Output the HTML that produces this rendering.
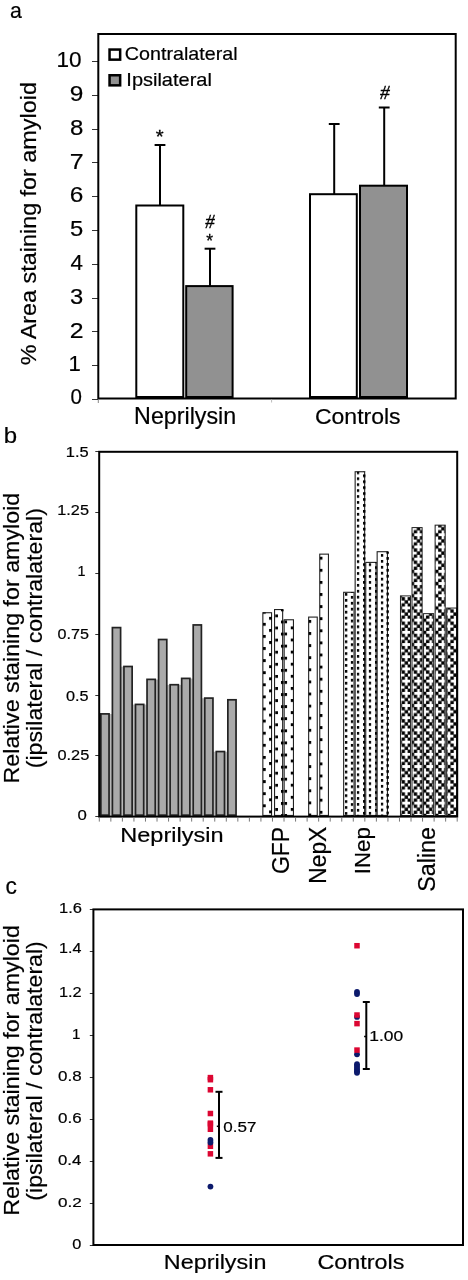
<!DOCTYPE html>
<html><head><meta charset="utf-8"><title>Figure</title>
<style>html,body{margin:0;padding:0;background:#fff;}svg{display:block;filter:blur(0.4px);}text{fill:#000;}</style>
</head><body>
<svg width="468" height="1280" viewBox="0 0 468 1280">
<defs><pattern id="d1" patternUnits="userSpaceOnUse" x="262.95" y="622.85" width="3.90" height="12.100"><rect x="0" y="0" width="2.90" height="2.90" fill="#000"/></pattern><pattern id="d2" patternUnits="userSpaceOnUse" x="269.05" y="628.95" width="3.90" height="12.100"><rect x="0" y="0" width="2.90" height="2.90" fill="#000"/></pattern><pattern id="d3" patternUnits="userSpaceOnUse" x="275.15" y="614.45" width="3.90" height="12.100"><rect x="0" y="0" width="2.90" height="2.90" fill="#000"/></pattern><pattern id="d4" patternUnits="userSpaceOnUse" x="280.85" y="608.45" width="3.90" height="12.100"><rect x="0" y="0" width="2.90" height="2.90" fill="#000"/></pattern><pattern id="d5" patternUnits="userSpaceOnUse" x="284.35" y="620.45" width="3.90" height="12.100"><rect x="0" y="0" width="2.90" height="2.90" fill="#000"/></pattern><pattern id="d6" patternUnits="userSpaceOnUse" x="290.55" y="626.45" width="3.90" height="12.100"><rect x="0" y="0" width="2.90" height="2.90" fill="#000"/></pattern><pattern id="d7" patternUnits="userSpaceOnUse" x="308.55" y="619.95" width="3.90" height="12.100"><rect x="0" y="0" width="2.90" height="2.90" fill="#000"/></pattern><pattern id="d8" patternUnits="userSpaceOnUse" x="319.75" y="556.75" width="3.90" height="12.100"><rect x="0" y="0" width="2.90" height="2.90" fill="#000"/></pattern><pattern id="d9" patternUnits="userSpaceOnUse" x="344.85" y="598.95" width="3.70" height="5.920"><rect x="0" y="0" width="2.70" height="2.70" fill="#000"/></pattern><pattern id="d10" patternUnits="userSpaceOnUse" x="350.65" y="595.95" width="3.70" height="5.920"><rect x="0" y="0" width="2.70" height="2.70" fill="#000"/></pattern><pattern id="d11" patternUnits="userSpaceOnUse" x="356.75" y="583.95" width="3.70" height="5.920"><rect x="0" y="0" width="2.70" height="2.70" fill="#000"/></pattern><pattern id="d12" patternUnits="userSpaceOnUse" x="362.95" y="586.95" width="3.70" height="5.920"><rect x="0" y="0" width="2.70" height="2.70" fill="#000"/></pattern><pattern id="d13" patternUnits="userSpaceOnUse" x="368.65" y="581.05" width="3.70" height="5.920"><rect x="0" y="0" width="2.70" height="2.70" fill="#000"/></pattern><pattern id="d14" patternUnits="userSpaceOnUse" x="374.95" y="584.05" width="3.70" height="5.920"><rect x="0" y="0" width="2.70" height="2.70" fill="#000"/></pattern><pattern id="d15" patternUnits="userSpaceOnUse" x="380.75" y="583.65" width="3.70" height="5.920"><rect x="0" y="0" width="2.70" height="2.70" fill="#000"/></pattern><pattern id="d16" patternUnits="userSpaceOnUse" x="386.25" y="586.65" width="3.70" height="5.920"><rect x="0" y="0" width="2.70" height="2.70" fill="#000"/></pattern><pattern id="sal" patternUnits="userSpaceOnUse" x="398.7" y="8.70" width="12.20" height="12.20"><rect x="-0.18" y="-0.18" width="3.40" height="3.40" fill="#000"/><rect x="2.88" y="2.88" width="3.40" height="3.40" fill="#000"/><rect x="8.97" y="2.88" width="3.40" height="3.40" fill="#000"/><rect x="5.92" y="5.92" width="3.40" height="3.40" fill="#000"/><rect x="2.88" y="8.97" width="3.40" height="3.40" fill="#000"/><rect x="8.97" y="8.97" width="3.40" height="3.40" fill="#000"/><rect x="12.02" y="-0.18" width="3.40" height="3.40" fill="#000"/><rect x="-0.18" y="12.02" width="3.40" height="3.40" fill="#000"/><rect x="12.02" y="12.02" width="3.40" height="3.40" fill="#000"/></pattern></defs>
<rect x="0" y="0" width="468" height="1280" fill="#fff"/>
<text transform="translate(10.00,17.97) scale(0.9391,1)" font-size="22.65" font-family='"Liberation Sans", sans-serif' stroke="#000" stroke-width="0.2">a</text>
<line x1="92.00" y1="399.50" x2="98.30" y2="399.50" stroke="#333" stroke-width="1" />
<text transform="translate(70.58,404.09) scale(0.9616,1)" font-size="21.34" font-family='"Liberation Sans", sans-serif' stroke="#000" stroke-width="0.2">0</text>
<line x1="92.00" y1="365.50" x2="98.30" y2="365.50" stroke="#333" stroke-width="1" />
<text transform="translate(68.51,371.20) scale(1.0000,1)" font-size="22.11" font-family='"Liberation Sans", sans-serif' stroke="#000" stroke-width="0.2">1</text>
<line x1="92.00" y1="331.50" x2="98.30" y2="331.50" stroke="#333" stroke-width="1" />
<text transform="translate(69.76,337.58) scale(1.1104,1)" font-size="22.37" font-family='"Liberation Sans", sans-serif' stroke="#000" stroke-width="0.2">2</text>
<line x1="92.00" y1="298.50" x2="98.30" y2="298.50" stroke="#333" stroke-width="1" />
<text transform="translate(70.11,303.58) scale(1.0789,1)" font-size="22.05" font-family='"Liberation Sans", sans-serif' stroke="#000" stroke-width="0.2">3</text>
<line x1="92.00" y1="264.50" x2="98.30" y2="264.50" stroke="#333" stroke-width="1" />
<text transform="translate(70.50,270.03) scale(0.9861,1)" font-size="22.69" font-family='"Liberation Sans", sans-serif' stroke="#000" stroke-width="0.2">4</text>
<line x1="92.00" y1="230.50" x2="98.30" y2="230.50" stroke="#333" stroke-width="1" />
<text transform="translate(70.05,236.03) scale(1.0637,1)" font-size="22.37" font-family='"Liberation Sans", sans-serif' stroke="#000" stroke-width="0.2">5</text>
<line x1="92.00" y1="196.50" x2="98.30" y2="196.50" stroke="#333" stroke-width="1" />
<text transform="translate(69.78,202.18) scale(1.0872,1)" font-size="22.47" font-family='"Liberation Sans", sans-serif' stroke="#000" stroke-width="0.2">6</text>
<line x1="92.00" y1="162.50" x2="98.30" y2="162.50" stroke="#333" stroke-width="1" />
<text transform="translate(69.69,169.00) scale(1.1148,1)" font-size="22.40" font-family='"Liberation Sans", sans-serif' stroke="#000" stroke-width="0.2">7</text>
<line x1="92.00" y1="129.50" x2="98.30" y2="129.50" stroke="#333" stroke-width="1" />
<text transform="translate(69.98,134.70) scale(1.0904,1)" font-size="22.05" font-family='"Liberation Sans", sans-serif' stroke="#000" stroke-width="0.2">8</text>
<line x1="92.00" y1="95.50" x2="98.30" y2="95.50" stroke="#333" stroke-width="1" />
<text transform="translate(69.84,100.93) scale(1.1081,1)" font-size="22.05" font-family='"Liberation Sans", sans-serif' stroke="#000" stroke-width="0.2">9</text>
<line x1="92.00" y1="61.50" x2="98.30" y2="61.50" stroke="#333" stroke-width="1" />
<text transform="translate(56.41,66.78) scale(1.0296,1)" font-size="21.91" font-family='"Liberation Sans", sans-serif' stroke="#000" stroke-width="0.2">10</text>
<text transform="translate(36.39,365.22) rotate(-90) scale(1.0531,1)" font-size="22.20" font-family='"Liberation Sans", sans-serif' stroke="#000" stroke-width="0.2">% Area staining for amyloid</text>
<rect x="109.55" y="49.55" width="10.60" height="10.10" fill="#fff" stroke="#000" stroke-width="2.5" />
<rect x="109.55" y="75.25" width="10.60" height="10.10" fill="#919191" stroke="#000" stroke-width="2.5" />
<text transform="translate(124.82,60.21) scale(1.0486,1)" font-size="18.78" font-family='"Liberation Sans", sans-serif' stroke="#000" stroke-width="0.2">Contralateral</text>
<text transform="translate(126.35,85.65) scale(1.0780,1)" font-size="18.55" font-family='"Liberation Sans", sans-serif' stroke="#000" stroke-width="0.2">Ipsilateral</text>
<rect x="136.30" y="205.50" width="47.00" height="191.50" fill="#fff" stroke="#000" stroke-width="2" />
<rect x="186.20" y="286.10" width="46.40" height="110.90" fill="#919191" stroke="#000" stroke-width="2" />
<rect x="310.00" y="194.20" width="46.80" height="202.80" fill="#fff" stroke="#000" stroke-width="2" />
<rect x="360.00" y="185.70" width="47.00" height="211.30" fill="#919191" stroke="#000" stroke-width="2" />
<line x1="160.00" y1="145.00" x2="160.00" y2="205.50" stroke="#000" stroke-width="2" />
<line x1="154.60" y1="145.00" x2="165.40" y2="145.00" stroke="#000" stroke-width="2" />
<line x1="210.00" y1="248.70" x2="210.00" y2="286.10" stroke="#000" stroke-width="2" />
<line x1="204.60" y1="248.70" x2="215.40" y2="248.70" stroke="#000" stroke-width="2" />
<line x1="334.20" y1="124.00" x2="334.20" y2="194.20" stroke="#000" stroke-width="2" />
<line x1="328.80" y1="124.00" x2="339.60" y2="124.00" stroke="#000" stroke-width="2" />
<line x1="384.20" y1="107.50" x2="384.20" y2="185.70" stroke="#000" stroke-width="2" />
<line x1="378.80" y1="107.50" x2="389.60" y2="107.50" stroke="#000" stroke-width="2" />
<text transform="translate(155.75,143.18) scale(1.1268,1)" font-size="18.00" font-family='"Liberation Sans", sans-serif' stroke="#000" stroke-width="0.3">*</text>
<text transform="translate(205.16,227.70) scale(0.9888,1)" font-size="18.93" font-family='"Liberation Serif", serif' font-style="italic" stroke="#000" stroke-width="0.35">#</text>
<text transform="translate(206.29,246.68) scale(0.9703,1)" font-size="18.00" font-family='"Liberation Sans", sans-serif' stroke="#000" stroke-width="0.3">*</text>
<text transform="translate(379.96,98.80) scale(1.0200,1)" font-size="18.93" font-family='"Liberation Serif", serif' font-style="italic" stroke="#000" stroke-width="0.35">#</text>
<rect x="98.30" y="34.00" width="357.40" height="364.50" fill="none" stroke="#000" stroke-width="2" />
<line x1="98.30" y1="399.50" x2="98.30" y2="403.00" stroke="#888" stroke-width="1" />
<line x1="271.60" y1="399.50" x2="271.60" y2="402.50" stroke="#bbb" stroke-width="1" />
<text transform="translate(134.08,424.12) scale(1.0090,1)" font-size="23.06" font-family='"Liberation Sans", sans-serif' stroke="#000" stroke-width="0.2">Neprilysin</text>
<text transform="translate(314.95,423.58) scale(1.0510,1)" font-size="21.90" font-family='"Liberation Sans", sans-serif' stroke="#000" stroke-width="0.2">Controls</text>
<text transform="translate(3.64,443.48) scale(1.0889,1)" font-size="22.04" font-family='"Liberation Sans", sans-serif' stroke="#000" stroke-width="0.2">b</text>
<line x1="95.30" y1="816.50" x2="99.20" y2="816.50" stroke="#333" stroke-width="1" />
<text transform="translate(77.43,819.65) scale(1.1078,1)" font-size="15.12" font-family='"Liberation Sans", sans-serif' stroke="#000" stroke-width="0.2">0</text>
<line x1="95.30" y1="755.50" x2="99.20" y2="755.50" stroke="#333" stroke-width="1" />
<text transform="translate(57.45,760.45) scale(1.0915,1)" font-size="14.98" font-family='"Liberation Sans", sans-serif' stroke="#000" stroke-width="0.2">0.25</text>
<line x1="95.30" y1="695.50" x2="99.20" y2="695.50" stroke="#333" stroke-width="1" />
<text transform="translate(65.95,700.55) scale(1.0956,1)" font-size="14.84" font-family='"Liberation Sans", sans-serif' stroke="#000" stroke-width="0.2">0.5</text>
<line x1="95.30" y1="634.50" x2="99.20" y2="634.50" stroke="#333" stroke-width="1" />
<text transform="translate(57.55,639.06) scale(1.1534,1)" font-size="13.99" font-family='"Liberation Sans", sans-serif' stroke="#000" stroke-width="0.2">0.75</text>
<line x1="95.30" y1="573.50" x2="99.20" y2="573.50" stroke="#333" stroke-width="1" />
<text transform="translate(77.41,575.70) scale(1.0000,1)" font-size="14.40" font-family='"Liberation Sans", sans-serif' stroke="#000" stroke-width="0.2">1</text>
<line x1="95.30" y1="512.50" x2="99.20" y2="512.50" stroke="#333" stroke-width="1" />
<text transform="translate(57.28,515.25) scale(1.0972,1)" font-size="14.84" font-family='"Liberation Sans", sans-serif' stroke="#000" stroke-width="0.2">1.25</text>
<line x1="95.30" y1="451.50" x2="99.20" y2="451.50" stroke="#333" stroke-width="1" />
<text transform="translate(65.86,456.55) scale(1.0838,1)" font-size="15.20" font-family='"Liberation Sans", sans-serif' stroke="#000" stroke-width="0.2">1.5</text>
<text transform="translate(18.58,783.42) rotate(-90) scale(1.0231,1)" font-size="22.73" font-family='"Liberation Sans", sans-serif' stroke="#000" stroke-width="0.2">Relative staining for amyloid</text>
<text transform="translate(41.86,768.25) rotate(-90) scale(1.0150,1)" font-size="22.84" font-family='"Liberation Sans", sans-serif' stroke="#000" stroke-width="0.2">(ipsilateral / contralateral)</text>
<rect x="109.40" y="714.04" width="2.65" height="101.96" fill="#b8b8b8"/>
<rect x="120.95" y="666.64" width="2.65" height="149.36" fill="#b8b8b8"/>
<rect x="132.49" y="704.56" width="2.65" height="111.44" fill="#b8b8b8"/>
<rect x="144.04" y="704.56" width="2.65" height="111.44" fill="#b8b8b8"/>
<rect x="155.58" y="679.52" width="2.65" height="136.48" fill="#b8b8b8"/>
<rect x="167.13" y="684.87" width="2.65" height="131.13" fill="#b8b8b8"/>
<rect x="178.67" y="684.87" width="2.65" height="131.13" fill="#b8b8b8"/>
<rect x="190.22" y="678.55" width="2.65" height="137.45" fill="#b8b8b8"/>
<rect x="201.76" y="698.24" width="2.65" height="117.76" fill="#b8b8b8"/>
<rect x="213.31" y="751.71" width="2.65" height="64.29" fill="#b8b8b8"/>
<rect x="224.85" y="751.71" width="2.65" height="64.29" fill="#b8b8b8"/>
<rect x="100.85" y="713.89" width="8.20" height="101.26" fill="#aaaaaa" stroke="#222" stroke-width="1.7" />
<rect x="112.40" y="627.60" width="8.20" height="187.55" fill="#aaaaaa" stroke="#222" stroke-width="1.7" />
<rect x="123.94" y="666.49" width="8.20" height="148.66" fill="#aaaaaa" stroke="#222" stroke-width="1.7" />
<rect x="135.49" y="704.41" width="8.20" height="110.74" fill="#aaaaaa" stroke="#222" stroke-width="1.7" />
<rect x="147.03" y="679.37" width="8.20" height="135.78" fill="#aaaaaa" stroke="#222" stroke-width="1.7" />
<rect x="158.58" y="639.51" width="8.20" height="175.64" fill="#aaaaaa" stroke="#222" stroke-width="1.7" />
<rect x="170.12" y="684.72" width="8.20" height="130.43" fill="#aaaaaa" stroke="#222" stroke-width="1.7" />
<rect x="181.67" y="678.40" width="8.20" height="136.75" fill="#aaaaaa" stroke="#222" stroke-width="1.7" />
<rect x="193.21" y="624.93" width="8.20" height="190.22" fill="#aaaaaa" stroke="#222" stroke-width="1.7" />
<rect x="204.76" y="698.09" width="8.20" height="117.06" fill="#aaaaaa" stroke="#222" stroke-width="1.7" />
<rect x="216.30" y="751.56" width="8.20" height="63.59" fill="#aaaaaa" stroke="#222" stroke-width="1.7" />
<rect x="227.85" y="699.79" width="8.20" height="115.36" fill="#aaaaaa" stroke="#222" stroke-width="1.7" />
<rect x="262.85" y="612.72" width="8.70" height="202.73" fill="#fff" stroke="#222" stroke-width="1.1" />
<rect x="262.95" y="612.47" width="2.90" height="203.53" fill="url(#d1)"/>
<rect x="269.05" y="612.47" width="2.90" height="203.53" fill="url(#d2)"/>
<rect x="274.55" y="609.56" width="8.10" height="205.89" fill="#fff" stroke="#222" stroke-width="1.1" />
<rect x="275.15" y="609.31" width="2.90" height="206.69" fill="url(#d3)"/>
<rect x="280.85" y="609.31" width="2.90" height="206.69" fill="url(#d4)"/>
<rect x="284.15" y="619.77" width="9.30" height="195.68" fill="#fff" stroke="#222" stroke-width="1.1" />
<rect x="284.35" y="619.52" width="2.90" height="196.48" fill="url(#d5)"/>
<rect x="290.55" y="619.52" width="2.90" height="196.48" fill="url(#d6)"/>
<rect x="308.65" y="617.09" width="8.60" height="198.36" fill="#fff" stroke="#222" stroke-width="1.1" />
<rect x="308.55" y="616.84" width="2.90" height="199.16" fill="url(#d7)"/>
<rect x="319.75" y="554.14" width="8.70" height="261.31" fill="#fff" stroke="#222" stroke-width="1.1" />
<rect x="319.75" y="553.89" width="2.90" height="262.11" fill="url(#d8)"/>
<rect x="343.65" y="592.30" width="10.40" height="223.15" fill="#fff" stroke="#222" stroke-width="1.1" />
<rect x="344.85" y="592.05" width="2.70" height="223.95" fill="url(#d9)"/>
<rect x="350.65" y="592.05" width="2.70" height="223.95" fill="url(#d10)"/>
<rect x="355.15" y="471.74" width="9.50" height="343.71" fill="#fff" stroke="#222" stroke-width="1.1" />
<rect x="356.75" y="471.49" width="2.70" height="344.51" fill="url(#d11)"/>
<rect x="362.95" y="471.49" width="2.70" height="344.51" fill="url(#d12)"/>
<rect x="365.75" y="562.40" width="10.30" height="253.05" fill="#fff" stroke="#222" stroke-width="1.1" />
<rect x="368.65" y="562.15" width="2.70" height="253.85" fill="url(#d13)"/>
<rect x="374.95" y="562.15" width="2.70" height="253.85" fill="url(#d14)"/>
<rect x="377.15" y="551.71" width="10.30" height="263.74" fill="#fff" stroke="#222" stroke-width="1.1" />
<rect x="380.75" y="551.46" width="2.70" height="264.54" fill="url(#d15)"/>
<rect x="386.25" y="551.46" width="2.70" height="264.54" fill="url(#d16)"/>
<rect x="400.47" y="595.90" width="10.10" height="219.60" fill="url(#sal)" stroke="#222" stroke-width="1.0" />
<rect x="412.02" y="527.60" width="10.10" height="287.90" fill="url(#sal)" stroke="#222" stroke-width="1.0" />
<rect x="423.56" y="613.64" width="10.10" height="201.86" fill="url(#sal)" stroke="#222" stroke-width="1.0" />
<rect x="435.11" y="525.16" width="10.10" height="290.34" fill="url(#sal)" stroke="#222" stroke-width="1.0" />
<rect x="446.65" y="608.05" width="10.10" height="207.45" fill="url(#sal)" stroke="#222" stroke-width="1.0" />
<rect x="99.20" y="451.80" width="358.00" height="364.80" fill="none" stroke="#000" stroke-width="2" />
<line x1="99.30" y1="817.60" x2="99.30" y2="821.60" stroke="#777" stroke-width="1" />
<line x1="110.85" y1="817.60" x2="110.85" y2="821.60" stroke="#777" stroke-width="1" />
<line x1="122.39" y1="817.60" x2="122.39" y2="821.60" stroke="#777" stroke-width="1" />
<line x1="133.94" y1="817.60" x2="133.94" y2="821.60" stroke="#777" stroke-width="1" />
<line x1="145.48" y1="817.60" x2="145.48" y2="821.60" stroke="#777" stroke-width="1" />
<line x1="157.03" y1="817.60" x2="157.03" y2="821.60" stroke="#777" stroke-width="1" />
<line x1="168.57" y1="817.60" x2="168.57" y2="821.60" stroke="#777" stroke-width="1" />
<line x1="180.12" y1="817.60" x2="180.12" y2="821.60" stroke="#777" stroke-width="1" />
<line x1="191.66" y1="817.60" x2="191.66" y2="821.60" stroke="#777" stroke-width="1" />
<line x1="203.21" y1="817.60" x2="203.21" y2="821.60" stroke="#777" stroke-width="1" />
<line x1="214.75" y1="817.60" x2="214.75" y2="821.60" stroke="#777" stroke-width="1" />
<line x1="226.30" y1="817.60" x2="226.30" y2="821.60" stroke="#777" stroke-width="1" />
<line x1="237.84" y1="817.60" x2="237.84" y2="821.60" stroke="#777" stroke-width="1" />
<line x1="249.39" y1="817.60" x2="249.39" y2="821.60" stroke="#777" stroke-width="1" />
<line x1="260.93" y1="817.60" x2="260.93" y2="821.60" stroke="#777" stroke-width="1" />
<line x1="272.48" y1="817.60" x2="272.48" y2="821.60" stroke="#777" stroke-width="1" />
<line x1="284.02" y1="817.60" x2="284.02" y2="821.60" stroke="#777" stroke-width="1" />
<line x1="295.57" y1="817.60" x2="295.57" y2="821.60" stroke="#777" stroke-width="1" />
<line x1="307.11" y1="817.60" x2="307.11" y2="821.60" stroke="#777" stroke-width="1" />
<line x1="318.66" y1="817.60" x2="318.66" y2="821.60" stroke="#777" stroke-width="1" />
<line x1="330.20" y1="817.60" x2="330.20" y2="821.60" stroke="#777" stroke-width="1" />
<line x1="341.75" y1="817.60" x2="341.75" y2="821.60" stroke="#777" stroke-width="1" />
<line x1="353.29" y1="817.60" x2="353.29" y2="821.60" stroke="#777" stroke-width="1" />
<line x1="364.84" y1="817.60" x2="364.84" y2="821.60" stroke="#777" stroke-width="1" />
<line x1="376.38" y1="817.60" x2="376.38" y2="821.60" stroke="#777" stroke-width="1" />
<line x1="387.93" y1="817.60" x2="387.93" y2="821.60" stroke="#777" stroke-width="1" />
<line x1="399.47" y1="817.60" x2="399.47" y2="821.60" stroke="#777" stroke-width="1" />
<line x1="411.02" y1="817.60" x2="411.02" y2="821.60" stroke="#777" stroke-width="1" />
<line x1="422.56" y1="817.60" x2="422.56" y2="821.60" stroke="#777" stroke-width="1" />
<line x1="434.11" y1="817.60" x2="434.11" y2="821.60" stroke="#777" stroke-width="1" />
<line x1="445.65" y1="817.60" x2="445.65" y2="821.60" stroke="#777" stroke-width="1" />
<line x1="457.20" y1="817.60" x2="457.20" y2="821.60" stroke="#777" stroke-width="1" />
<text transform="translate(120.26,841.86) scale(1.1249,1)" font-size="20.91" font-family='"Liberation Sans", sans-serif' stroke="#000" stroke-width="0.2">Neprilysin</text>
<text transform="translate(289.26,874.05) rotate(-90) scale(0.9514,1)" font-size="24.17" font-family='"Liberation Sans", sans-serif' stroke="#000" stroke-width="0.2">GFP</text>
<text transform="translate(325.73,883.68) rotate(-90) scale(0.9706,1)" font-size="23.46" font-family='"Liberation Sans", sans-serif' stroke="#000" stroke-width="0.2">NepX</text>
<text transform="translate(370.41,874.16) rotate(-90) scale(1.0080,1)" font-size="22.12" font-family='"Liberation Sans", sans-serif' stroke="#000" stroke-width="0.2">INep</text>
<text transform="translate(434.56,891.85) rotate(-90) scale(0.9749,1)" font-size="23.95" font-family='"Liberation Sans", sans-serif' stroke="#000" stroke-width="0.2">Saline</text>
<text transform="translate(5.43,893.67) scale(0.9903,1)" font-size="23.01" font-family='"Liberation Sans", sans-serif' stroke="#000" stroke-width="0.2">c</text>
<line x1="89.80" y1="1245.50" x2="93.40" y2="1245.50" stroke="#333" stroke-width="1" />
<text transform="translate(72.15,1248.66) scale(1.1674,1)" font-size="13.99" font-family='"Liberation Sans", sans-serif' stroke="#000" stroke-width="0.2">0</text>
<line x1="89.80" y1="1203.50" x2="93.40" y2="1203.50" stroke="#333" stroke-width="1" />
<text transform="translate(58.02,1207.27) scale(1.3424,1)" font-size="12.72" font-family='"Liberation Sans", sans-serif' stroke="#000" stroke-width="0.2">0.2</text>
<line x1="89.80" y1="1161.50" x2="93.40" y2="1161.50" stroke="#333" stroke-width="1" />
<text transform="translate(58.03,1165.05) scale(1.1420,1)" font-size="14.70" font-family='"Liberation Sans", sans-serif' stroke="#000" stroke-width="0.2">0.4</text>
<line x1="89.80" y1="1119.50" x2="93.40" y2="1119.50" stroke="#333" stroke-width="1" />
<text transform="translate(58.02,1123.25) scale(1.1551,1)" font-size="14.70" font-family='"Liberation Sans", sans-serif' stroke="#000" stroke-width="0.2">0.6</text>
<line x1="89.80" y1="1077.50" x2="93.40" y2="1077.50" stroke="#333" stroke-width="1" />
<text transform="translate(58.02,1081.05) scale(1.1227,1)" font-size="15.12" font-family='"Liberation Sans", sans-serif' stroke="#000" stroke-width="0.2">0.8</text>
<line x1="89.80" y1="1035.50" x2="93.40" y2="1035.50" stroke="#333" stroke-width="1" />
<text transform="translate(71.94,1039.20) scale(1.0000,1)" font-size="15.13" font-family='"Liberation Sans", sans-serif' stroke="#000" stroke-width="0.2">1</text>
<line x1="89.80" y1="993.50" x2="93.40" y2="993.50" stroke="#333" stroke-width="1" />
<text transform="translate(58.97,996.80) scale(1.0568,1)" font-size="15.48" font-family='"Liberation Sans", sans-serif' stroke="#000" stroke-width="0.2">1.2</text>
<line x1="89.80" y1="951.50" x2="93.40" y2="951.50" stroke="#333" stroke-width="1" />
<text transform="translate(58.99,953.40) scale(1.0837,1)" font-size="14.84" font-family='"Liberation Sans", sans-serif' stroke="#000" stroke-width="0.2">1.4</text>
<line x1="89.80" y1="909.50" x2="93.40" y2="909.50" stroke="#333" stroke-width="1" />
<text transform="translate(58.96,913.15) scale(1.0811,1)" font-size="15.27" font-family='"Liberation Sans", sans-serif' stroke="#000" stroke-width="0.2">1.6</text>
<text transform="translate(18.58,1215.82) rotate(-90) scale(1.0228,1)" font-size="22.73" font-family='"Liberation Sans", sans-serif' stroke="#000" stroke-width="0.2">Relative staining for amyloid</text>
<text transform="translate(41.86,1200.65) rotate(-90) scale(1.0122,1)" font-size="22.84" font-family='"Liberation Sans", sans-serif' stroke="#000" stroke-width="0.2">(ipsilateral / contralateral)</text>
<rect x="93.40" y="909.40" width="369.60" height="335.60" fill="none" stroke="#000" stroke-width="2" />
<circle cx="357" cy="991.92" r="2.9" fill="#0c1a6c"/>
<circle cx="357" cy="994.02" r="2.9" fill="#0c1a6c"/>
<circle cx="357" cy="1016.91" r="2.9" fill="#0c1a6c"/>
<circle cx="357" cy="1054.29" r="2.9" fill="#0c1a6c"/>
<circle cx="357" cy="1064.16" r="2.9" fill="#0c1a6c"/>
<circle cx="357" cy="1066.05" r="2.9" fill="#0c1a6c"/>
<circle cx="357" cy="1067.94" r="2.9" fill="#0c1a6c"/>
<circle cx="357" cy="1069.62" r="2.9" fill="#0c1a6c"/>
<circle cx="357" cy="1071.30" r="2.9" fill="#0c1a6c"/>
<circle cx="357" cy="1072.77" r="2.9" fill="#0c1a6c"/>
<rect x="207.65" y="1074.85" width="5.5" height="5.5" fill="#dc0632"/>
<rect x="207.65" y="1076.95" width="5.5" height="5.5" fill="#dc0632"/>
<rect x="207.65" y="1087.03" width="5.5" height="5.5" fill="#dc0632"/>
<rect x="207.65" y="1110.76" width="5.5" height="5.5" fill="#dc0632"/>
<rect x="207.65" y="1120.42" width="5.5" height="5.5" fill="#dc0632"/>
<rect x="207.65" y="1121.47" width="5.5" height="5.5" fill="#dc0632"/>
<rect x="207.65" y="1126.51" width="5.5" height="5.5" fill="#dc0632"/>
<rect x="207.65" y="1143.52" width="5.5" height="5.5" fill="#dc0632"/>
<rect x="207.65" y="1151.08" width="5.5" height="5.5" fill="#dc0632"/>
<circle cx="210.45" cy="1139.97" r="2.9" fill="#0c1a6c"/>
<circle cx="210.45" cy="1142.49" r="2.9" fill="#0c1a6c"/>
<circle cx="210.45" cy="1186.59" r="2.9" fill="#0c1a6c"/>
<rect x="354.25" y="942.97" width="5.5" height="5.5" fill="#dc0632"/>
<rect x="354.25" y="1012.27" width="5.5" height="5.5" fill="#dc0632"/>
<rect x="354.25" y="1020.88" width="5.5" height="5.5" fill="#dc0632"/>
<rect x="354.25" y="1047.34" width="5.5" height="5.5" fill="#dc0632"/>
<line x1="219.00" y1="1091.80" x2="219.00" y2="1157.90" stroke="#000" stroke-width="2" />
<line x1="215.50" y1="1091.80" x2="222.50" y2="1091.80" stroke="#000" stroke-width="2" />
<line x1="215.50" y1="1157.90" x2="222.50" y2="1157.90" stroke="#000" stroke-width="2" />
<line x1="216.80" y1="1126.30" x2="219.00" y2="1126.30" stroke="#000" stroke-width="1.5" />
<line x1="366.30" y1="1002.00" x2="366.30" y2="1069.00" stroke="#000" stroke-width="2" />
<line x1="362.80" y1="1002.00" x2="369.80" y2="1002.00" stroke="#000" stroke-width="2" />
<line x1="362.80" y1="1069.00" x2="369.80" y2="1069.00" stroke="#000" stroke-width="2" />
<line x1="364.10" y1="1036.50" x2="366.30" y2="1036.50" stroke="#000" stroke-width="1.5" />
<text transform="translate(223.32,1131.74) scale(1.0957,1)" font-size="15.55" font-family='"Liberation Sans", sans-serif' stroke="#000" stroke-width="0.2">0.57</text>
<text transform="translate(369.29,1040.85) scale(1.1404,1)" font-size="15.27" font-family='"Liberation Sans", sans-serif' stroke="#000" stroke-width="0.2">1.00</text>
<text transform="translate(163.87,1268.71) scale(1.1286,1)" font-size="20.70" font-family='"Liberation Sans", sans-serif' stroke="#000" stroke-width="0.2">Neprilysin</text>
<text transform="translate(317.53,1269.10) scale(1.1429,1)" font-size="20.41" font-family='"Liberation Sans", sans-serif' stroke="#000" stroke-width="0.2">Controls</text>
</svg>
</body></html>
